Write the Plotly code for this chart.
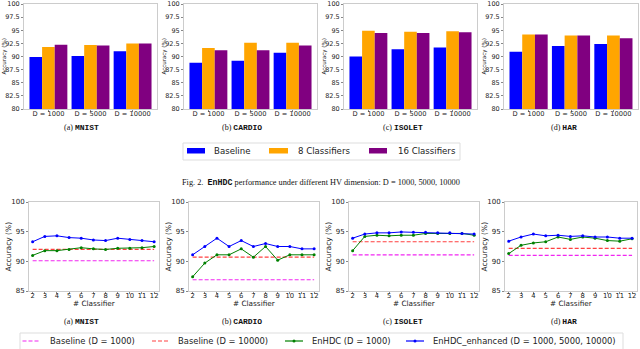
import plotly.graph_objects as go

# ---------------- data ----------------
datasets = ["MNIST", "CARDIO", "ISOLET", "HAR"]
panel_letters = ["a", "b", "c", "d"]
dims = ["D = 1000", "D = 5000", "D = 10000"]
bar_series = ["Baseline", "8 Classifiers", "16 Classifiers"]

mnist_baseline = [89.9, 90.1, 91.0]
mnist_8cls = [91.8, 92.2, 92.5]
mnist_16cls = [92.25, 92.1, 92.5]
cardio_baseline = [88.8, 89.2, 90.7]
cardio_8cls = [91.6, 92.6, 92.6]
cardio_16cls = [91.2, 91.2, 92.1]
isolet_baseline = [90.0, 91.4, 91.7]
isolet_8cls = [94.9, 94.7, 94.8]
isolet_16cls = [94.5, 94.5, 94.6]
har_baseline = [90.9, 92.0, 92.4]
har_8cls = [94.2, 94.0, 94.0]
har_16cls = [94.2, 94.0, 93.5]

n_classifiers = [2, 3, 4, 5, 6, 7, 8, 9, 10, 11, 12]

mnist_base_1000 = 90.1
mnist_base_10000 = 92.0
mnist_enhdc = [91.0, 91.8, 91.8, 92.0, 92.3, 92.1, 92.0, 92.2, 92.2, 92.3, 92.5]
mnist_enhanced = [93.3, 94.2, 94.3, 94.0, 93.9, 93.6, 93.5, 93.9, 93.7, 93.5, 93.3]

cardio_base_1000 = 86.9
cardio_base_10000 = 90.7
cardio_enhdc = [87.4, 89.7, 91.1, 91.1, 92.1, 90.7, 92.5, 90.2, 91.1, 91.1, 91.1]
cardio_enhanced = [91.1, 92.5, 93.9, 92.5, 93.5, 92.5, 93.0, 92.5, 92.5, 92.1, 92.1]

isolet_base_1000 = 91.1
isolet_base_10000 = 93.3
isolet_enhdc = [91.8, 94.2, 94.4, 94.3, 94.4, 94.4, 94.7, 94.7, 94.7, 94.7, 94.4]
isolet_enhanced = [93.9, 94.6, 94.8, 94.8, 94.95, 94.9, 94.9, 94.8, 94.8, 94.7, 94.6]

har_base_1000 = 91.0
har_base_10000 = 92.2
har_enhdc = [91.3, 92.7, 93.1, 93.3, 94.1, 93.7, 94.1, 93.9, 93.5, 93.4, 93.8]
har_enhanced = [93.4, 94.1, 94.6, 94.3, 94.4, 94.2, 94.3, 94.1, 94.1, 93.9, 93.9]

bar_y_ticks = [80, 82.5, 85, 87.5, 90, 92.5, 95, 97.5, 100]
bar_y_ticktext = ["80", "82.5", "85", "87.5", "90", "92.5", "95", "97.5", "100"]
line_y_ticks = [85, 90, 95, 100]
line_series = ["Baseline (D = 1000)", "Baseline (D = 10000)", "EnHDC (D = 1000)",
               "EnHDC_enhanced (D = 1000, 5000, 10000)"]

bar_data = [
    (mnist_baseline, mnist_8cls, mnist_16cls),
    (cardio_baseline, cardio_8cls, cardio_16cls),
    (isolet_baseline, isolet_8cls, isolet_16cls),
    (har_baseline, har_8cls, har_16cls),
]
line_data = [
    (mnist_base_1000, mnist_base_10000, mnist_enhdc, mnist_enhanced),
    (cardio_base_1000, cardio_base_10000, cardio_enhdc, cardio_enhanced),
    (isolet_base_1000, isolet_base_10000, isolet_enhdc, isolet_enhanced),
    (har_base_1000, har_base_10000, har_enhdc, har_enhanced),
]

# ---------------- styling / layout ----------------
W, H = 640, 349
def fx(x):
    return x / W
def fy(y):
    return 1 - y / H

bar_colors = ["#0000ff", "#ffa500", "#800080"]
c_mag = "rgba(238,0,238,0.85)"
c_red = "rgba(255,30,30,0.85)"
c_green = "#008000"
c_blue = "#0000ff"
FRAME = "#cccccc"
TXT = "#222222"
SANS = "DejaVu Sans"
SERIF = "Liberation Serif"
MONO = "Liberation Mono"

bar_dom_x = [(24, 157), (184, 317), (344, 477), (504, 638)]
bar_dom_y = (4, 109)
line_dom_x = [(29, 159), (189, 319), (349, 479), (505, 637)]
line_dom_y = (202, 291)
caption_cx = [81, 242, 403, 564]

fig = go.Figure()
layout = dict(
    width=W, height=H,
    margin=dict(l=0, r=0, t=0, b=0, pad=0, autoexpand=False),
    paper_bgcolor="white", plot_bgcolor="white",
    showlegend=False,
    barmode="group", bargap=0.1, bargroupgap=0,
    font=dict(family=SANS, color=TXT),
)

annotations = []
shapes = []

for i in range(4):
    ax = i + 1
    for s in range(3):
        fig.add_trace(go.Bar(
            x=dims, y=bar_data[i][s], name=bar_series[s],
            marker=dict(color=bar_colors[s], line=dict(width=0)),
            xaxis=f"x{ax}", yaxis=f"y{ax}",
        ))
    layout[f"xaxis{ax}"] = dict(
        domain=[fx(bar_dom_x[i][0]), fx(bar_dom_x[i][1])], anchor=f"y{ax}",
        type="category", range=[-0.58, 2.58], automargin=False,
        showline=True, mirror=True, linecolor=FRAME, linewidth=1,
        ticks="outside", ticklen=2, tickcolor="#888", showgrid=False,
        ticklabelstandoff=-4,
        tickfont=dict(size=6.7, family=SANS, color=TXT),
    )
    layout[f"yaxis{ax}"] = dict(
        domain=[fy(bar_dom_y[1]), fy(bar_dom_y[0])], anchor=f"x{ax}",
        range=[80, 100], tickvals=bar_y_ticks, ticktext=bar_y_ticktext, automargin=False,
        showline=True, mirror=True, linecolor=FRAME, linewidth=1,
        ticks="outside", ticklen=2, tickcolor="#888", showgrid=False, zeroline=False,
        tickfont=dict(size=6.5, family=SANS, color=TXT),
    )
    annotations.append(dict(
        text="Accuracy (%)", textangle=-90, xref="paper", yref="paper",
        x=fx(bar_dom_x[i][0] - 20), y=fy((bar_dom_y[0] + bar_dom_y[1]) / 2),
        showarrow=False, font=dict(size=5.5, family=SANS, color=TXT),
        xanchor="center", yanchor="middle",
    ))
    annotations.append(dict(
        text=f"({panel_letters[i]}) <b><span style='font-family:{MONO}'>{datasets[i]}</span></b>",
        xref="paper", yref="paper", x=fx(caption_cx[i]), y=fy(128),
        showarrow=False, font=dict(size=8, family=SERIF, color="#111"),
        xanchor="center", yanchor="middle",
    ))

    # ---- line panels ----
    lx = i + 5
    b1000, b10000, enhdc, enh = line_data[i]
    fig.add_trace(go.Scatter(
        x=n_classifiers, y=[b1000] * len(n_classifiers), mode="lines", name=line_series[0],
        line=dict(color=c_mag, width=1.2, dash="4px,2px"),
        xaxis=f"x{lx}", yaxis=f"y{lx}",
    ))
    fig.add_trace(go.Scatter(
        x=n_classifiers, y=[b10000] * len(n_classifiers), mode="lines", name=line_series[1],
        line=dict(color=c_red, width=1.2, dash="4px,2px"),
        xaxis=f"x{lx}", yaxis=f"y{lx}",
    ))
    fig.add_trace(go.Scatter(
        x=n_classifiers, y=enhdc, mode="lines+markers", name=line_series[2],
        line=dict(color=c_green, width=1), marker=dict(size=3, color=c_green),
        xaxis=f"x{lx}", yaxis=f"y{lx}",
    ))
    fig.add_trace(go.Scatter(
        x=n_classifiers, y=enh, mode="lines+markers", name=line_series[3],
        line=dict(color=c_blue, width=1), marker=dict(size=3, color=c_blue),
        xaxis=f"x{lx}", yaxis=f"y{lx}",
    ))
    layout[f"xaxis{lx}"] = dict(
        domain=[fx(line_dom_x[i][0]), fx(line_dom_x[i][1])], anchor=f"y{lx}",
        range=[1.7, 12.4], tickvals=n_classifiers, automargin=False,
        showline=True, mirror=True, linecolor=FRAME, linewidth=1,
        ticks="outside", ticklen=2, tickcolor="#888", showgrid=False, zeroline=False,
        ticklabelstandoff=-4,
        tickfont=dict(size=6.8, family=SANS, color=TXT),
    )
    layout[f"yaxis{lx}"] = dict(
        domain=[fy(line_dom_y[1]), fy(line_dom_y[0])], anchor=f"x{lx}",
        range=[85, 100], tickvals=line_y_ticks, automargin=False,
        showline=True, mirror=True, linecolor=FRAME, linewidth=1,
        ticks="outside", ticklen=2, tickcolor="#888", showgrid=False, zeroline=False,
        tickfont=dict(size=7, family=SANS, color=TXT),
    )
    annotations.append(dict(
        text="Accuracy (%)", textangle=-90, xref="paper", yref="paper",
        x=fx(line_dom_x[i][0] - 21), y=fy((line_dom_y[0] + line_dom_y[1]) / 2),
        showarrow=False, font=dict(size=7.5, family=SANS, color=TXT),
        xanchor="center", yanchor="middle",
    ))
    annotations.append(dict(
        text="# Classifier", xref="paper", yref="paper",
        x=fx((line_dom_x[i][0] + line_dom_x[i][1]) / 2), y=fy(303.5),
        showarrow=False, font=dict(size=7.3, family=SANS, color=TXT),
        xanchor="center", yanchor="middle",
    ))
    annotations.append(dict(
        text=f"({panel_letters[i]}) <b><span style='font-family:{MONO}'>{datasets[i]}</span></b>",
        xref="paper", yref="paper", x=fx(caption_cx[i]), y=fy(321),
        showarrow=False, font=dict(size=8, family=SERIF, color="#111"),
        xanchor="center", yanchor="middle",
    ))

# ---- figure caption ----
annotations.append(dict(
    text=f"Fig. 2.  <b><span style='font-family:{MONO}'>EnHDC</span></b> performance under different HV dimension: D = 1000, 5000, 10000",
    xref="paper", yref="paper", x=fx(321), y=fy(183),
    showarrow=False, font=dict(size=8.3, family=SERIF, color="#111"),
    xanchor="center", yanchor="middle",
))

# ---- top legend (manual) ----
shapes.append(dict(type="rect", xref="paper", yref="paper",
                   x0=fx(183), x1=fx(460), y0=fy(160), y1=fy(143),
                   line=dict(color="#dddddd", width=1), fillcolor="white"))
top_keys = [(187, 205, 212), (269, 288, 295.5), (369, 387, 395.5)]
for s, (k0, k1, tx) in enumerate(top_keys):
    shapes.append(dict(type="rect", xref="paper", yref="paper",
                       x0=fx(k0), x1=fx(k1), y0=fy(153.5), y1=fy(148),
                       line=dict(width=0), fillcolor=bar_colors[s]))
    annotations.append(dict(text=bar_series[s], xref="paper", yref="paper",
                            x=fx(tx), y=fy(151), showarrow=False, xanchor="left",
                            yanchor="middle", font=dict(size=8.6, family=SANS, color=TXT)))

# ---- bottom legend (manual) ----
shapes.append(dict(type="rect", xref="paper", yref="paper",
                   x0=fx(20), x1=fx(623), y0=fy(350), y1=fy(333),
                   line=dict(color="#dddddd", width=1), fillcolor="white"))
bot_keys = [(22.5, 40, 48, c_mag, "4px,2px", False),
            (152, 169.5, 176, c_red, "4px,2px", False),
            (285, 303, 309.5, c_green, "solid", True),
            (406, 424, 430.5, c_blue, "solid", True)]
for s, (k0, k1, tx, col, dash, mk) in enumerate(bot_keys):
    shapes.append(dict(type="line", xref="paper", yref="paper",
                       x0=fx(k0), x1=fx(k1), y0=fy(341), y1=fy(341),
                       line=dict(color=col, width=1.2, dash=dash)))
    if mk:
        shapes.append(dict(type="circle", xref="paper", yref="paper",
                           x0=fx((k0 + k1) / 2 - 1.5), x1=fx((k0 + k1) / 2 + 1.5),
                           y0=fy(342.5), y1=fy(339.5),
                           line=dict(width=0), fillcolor=col))
    annotations.append(dict(text=line_series[s], xref="paper", yref="paper",
                            x=fx(tx), y=fy(341), showarrow=False, xanchor="left",
                            yanchor="middle", font=dict(size=8.4, family=SANS, color=TXT)))

layout["annotations"] = annotations
layout["shapes"] = shapes
fig.update_layout(**layout)
fig.write_html("out.html",
               config={"displayModeBar": False},
               post_script="document.body.style.margin='0px';document.body.style.padding='0px';")
